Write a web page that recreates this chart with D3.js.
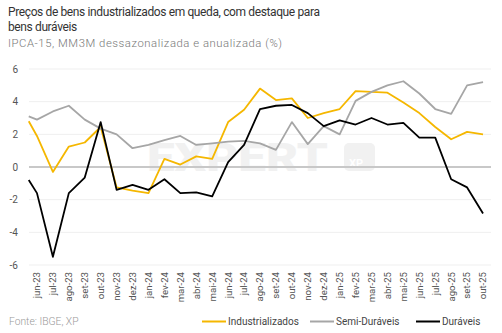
<!DOCTYPE html>
<html><head><meta charset="utf-8">
<script src="https://cdn.jsdelivr.net/npm/d3@7/dist/d3.min.js"></script>
<style>
body{margin:0;background:#fff;}
svg{display:block;font-family:Roboto,"Noto Sans",sans-serif;}
</style></head><body>
<svg id="c" width="502" height="333"></svg>
<script>
// Dates of observations (first point is mid-May 2023)
const dates = ["2023-05-16","2023-06-01","2023-07-01","2023-08-01","2023-09-01","2023-10-01","2023-11-01","2023-12-01",
  "2024-01-01","2024-02-01","2024-03-01","2024-04-01","2024-05-01","2024-06-01","2024-07-01","2024-08-01","2024-09-01",
  "2024-10-01","2024-11-01","2024-12-01","2025-01-01","2025-02-01","2025-03-01","2025-04-01","2025-05-01","2025-06-01",
  "2025-07-01","2025-08-01","2025-09-01","2025-10-01"];
const tickLabels = ["jun-23","jul-23","ago-23","set-23","out-23","nov-23","dez-23","jan-24","fev-24","mar-24","abr-24","mai-24",
  "jun-24","jul-24","ago-24","set-24","out-24","nov-24","dez-24","jan-25","fev-25","mar-25","abr-25","mai-25","jun-25",
  "jul-25","ago-25","set-25","out-25"];
const industrializados = [2.8,1.9,-0.3,1.25,1.5,2.45,-1.25,-1.45,-1.6,0.5,0.15,0.65,0.5,2.75,3.5,4.8,4.1,4.2,3.0,3.3,3.55,4.65,4.6,4.55,3.95,3.3,2.45,1.7,2.15,2.0];
const semiDuraveis = [3.1,2.9,3.4,3.75,2.9,2.35,2.0,1.15,1.35,1.65,1.9,1.35,1.45,1.55,1.6,1.45,1.05,2.75,1.4,2.5,2.0,4.05,4.6,5.0,5.25,4.5,3.55,3.25,5.0,5.2];
const duraveis = [-0.8,-1.6,-5.5,-1.6,-0.65,2.75,-1.4,-1.1,-1.4,-0.75,-1.6,-1.55,-1.8,0.3,1.35,3.55,3.75,3.8,3.3,2.5,2.85,2.6,3.0,2.6,2.7,1.8,1.8,-0.75,-1.25,-2.85];
const yTicks = [-6,-4,-2,0,2,4,6];
const seriesNames = ["Industrializados","Semi-Duráveis","Duráveis"];
const colors = ["#F5B700","#A6A6A6","#000000"];

// month index relative to jun-23 (fractional within month)
function mIdx(s){const [y,m,d]=s.split("-").map(Number);const dim=new Date(y,m,0).getDate();return (y-2023)*12+(m-6)+(d-1)/(dim);}
const xs = dates.map(mIdx);

const svg = d3.select("#c");
const x = d3.scaleLinear().domain([-0.5,28.5]).range([29,491]);
const y = d3.scaleLinear().domain([-6,6]).range([265,69]);

// titles
svg.append("text").attr("x",8).attr("y",16).attr("font-size",12).attr("letter-spacing",-0.38).attr("fill","#333").text("Preços de bens industrializados em queda, com destaque para");
svg.append("text").attr("x",8).attr("y",31).attr("font-size",12).attr("letter-spacing",-0.38).attr("fill","#333").text("bens duráveis");
svg.append("text").attr("x",8).attr("y",47).attr("font-size",11.3).attr("letter-spacing",0.55).attr("fill","#777").attr("font-weight",300).text("IPCA-15, MM3M dessazonalizada e anualizada (%)");

// grid
svg.append("g").selectAll("line").data(yTicks.filter(d=>d!==0)).join("line")
  .attr("x1",29).attr("x2",491).attr("y1",d=>y(d)).attr("y2",d=>y(d)).attr("stroke","#efefef").attr("stroke-width",1);

// watermark
const wm = svg.append("g").attr("opacity",0.6);
wm.append("text").attr("x",147).attr("y",171).attr("font-size",38).attr("font-weight",900).attr("fill","#e8e8e8")
  .attr("textLength",181).attr("lengthAdjust","spacingAndGlyphs").text("EXPERT");
wm.append("rect").attr("x",344).attr("y",143).attr("width",31).attr("height",28).attr("rx",5).attr("fill","#e8e8e8");
wm.append("text").attr("x",349).attr("y",167).attr("font-size",11).attr("font-weight",700).attr("fill","#fff").text("XP");

// zero line
svg.append("line").attr("x1",29).attr("x2",491).attr("y1",y(0)).attr("y2",y(0)).attr("stroke","#c8c8c8").attr("stroke-width",2);

// y labels
svg.append("g").selectAll("text").data(yTicks).join("text")
  .attr("x",18).attr("y",d=>y(d)).attr("dy","0.35em").attr("text-anchor","end")
  .attr("font-size",10).attr("fill","#555").text(d=>d);

// x labels
svg.append("g").selectAll("text").data(tickLabels).join("text")
  .attr("transform",(d,i)=>`translate(${x(i)},272) rotate(-90)`).attr("dy","0.35em").attr("text-anchor","end")
  .attr("font-size",9.6).attr("fill","#555").text(d=>d);

// lines
const line = d3.line().x((d,i)=>x(xs[i])).y(d=>y(d));
[industrializados,semiDuraveis,duraveis].forEach((s,k)=>{
  svg.append("path").datum(s).attr("d",line).attr("fill","none").attr("stroke",colors[k]).attr("stroke-width",1.8).attr("stroke-linejoin","round");
});

// footer
svg.append("text").attr("x",9).attr("y",325).attr("font-size",10.3).attr("fill","#999").attr("font-weight",300).text("Fonte: IBGE, XP");

// legend
const legX = [202,310,416];
const leg = svg.append("g");
seriesNames.forEach((n,k)=>{
  leg.append("line").attr("x1",legX[k]).attr("x2",legX[k]+24).attr("y1",321.5).attr("y2",321.5).attr("stroke",colors[k]).attr("stroke-width",2);
  leg.append("text").attr("x",legX[k]+26).attr("y",325).attr("font-size",10).attr("fill","#444").text(n);
});
</script></body></html>
